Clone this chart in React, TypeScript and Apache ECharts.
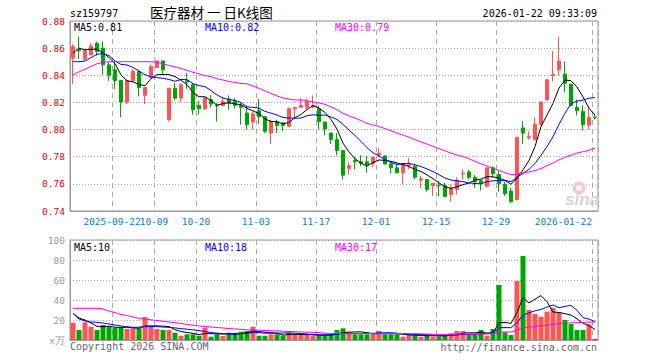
import React, { useEffect, useRef } from 'react';
import * as echarts from 'echarts';

const dates = [
  '2025-09-11','2025-09-12','2025-09-15','2025-09-16','2025-09-17','2025-09-18','2025-09-19','2025-09-22','2025-09-23','2025-09-24',
  '2025-09-25','2025-09-26','2025-09-29','2025-09-30','2025-10-09','2025-10-10','2025-10-13','2025-10-14','2025-10-15','2025-10-16',
  '2025-10-17','2025-10-20','2025-10-21','2025-10-22','2025-10-23','2025-10-24','2025-10-27','2025-10-28','2025-10-29','2025-10-30',
  '2025-10-31','2025-11-03','2025-11-04','2025-11-05','2025-11-06','2025-11-07','2025-11-10','2025-11-11','2025-11-12','2025-11-13',
  '2025-11-14','2025-11-17','2025-11-18','2025-11-19','2025-11-20','2025-11-21','2025-11-24','2025-11-25','2025-11-26','2025-11-27',
  '2025-11-28','2025-12-01','2025-12-02','2025-12-03','2025-12-04','2025-12-05','2025-12-08','2025-12-09','2025-12-10','2025-12-11',
  '2025-12-12','2025-12-15','2025-12-16','2025-12-17','2025-12-18','2025-12-19','2025-12-22','2025-12-23','2025-12-24','2025-12-25',
  '2025-12-26','2025-12-29','2025-12-30','2025-12-31','2026-01-05','2026-01-06','2026-01-07','2026-01-08','2026-01-09','2026-01-12',
  '2026-01-13','2026-01-14','2026-01-15','2026-01-16','2026-01-19','2026-01-20','2026-01-21','2026-01-22',
];

const tickDates = ['2025-09-22','2025-10-09','2025-10-20','2025-11-03','2025-11-17','2025-12-01','2025-12-15','2025-12-29','2026-01-22'];
const tickLabels = ['2025-09-22','10-09','10-20','11-03','11-17','12-01','12-15','12-29','2026-01-22'];

const openP = [
  0.8526,0.8590,0.8520,0.8550,0.8636,0.8600,0.8477,0.8440,0.8362,0.8203,
  0.8360,0.8428,0.8252,0.8384,0.8457,0.8506,0.8073,0.8305,0.8232,0.8360,
  0.8330,0.8178,0.8154,0.8220,0.8180,0.8178,0.8225,0.8208,0.8178,0.8122,
  0.8056,0.8139,0.8095,0.7975,0.8056,0.8050,0.8024,0.8154,0.8164,0.8164,
  0.8166,0.8154,0.8056,0.7975,0.7926,0.7845,0.7713,0.7772,0.7762,0.7762,
  0.7747,0.7811,0.7806,0.7747,0.7718,0.7681,0.7735,0.7730,0.7628,0.7632,
  0.7586,0.7590,0.7586,0.7522,0.7559,0.7674,0.7688,0.7649,0.7625,0.7583,
  0.7718,0.7669,0.7596,0.7547,0.7485,0.8012,0.7940,0.7926,0.8036,0.8220,
  0.8398,0.8440,0.8408,0.8335,0.8164,0.8134,0.8031,0.8092,
];
const closeP = [
  0.8611,0.8580,0.8580,0.8616,0.8575,0.8477,0.8400,0.8360,0.8203,0.8362,
  0.8428,0.8310,0.8310,0.8465,0.8506,0.8440,0.8305,0.8232,0.8330,0.8350,
  0.8146,0.8154,0.8232,0.8188,0.8175,0.8208,0.8193,0.8178,0.8164,0.8036,
  0.8115,0.8095,0.7987,0.8060,0.8031,0.8031,0.8154,0.8164,0.8178,0.8208,
  0.8178,0.8060,0.8004,0.7926,0.7845,0.7664,0.7735,0.7762,0.7752,0.7742,
  0.7796,0.7826,0.7747,0.7718,0.7681,0.7742,0.7745,0.7649,0.7637,0.7559,
  0.7605,0.7586,0.7507,0.7571,0.7625,0.7679,0.7649,0.7615,0.7605,0.7718,
  0.7674,0.7600,0.7527,0.7468,0.7943,0.7975,0.7948,0.8041,0.8203,0.8367,
  0.8406,0.8506,0.8342,0.8178,0.8139,0.8036,0.8090,0.8088,
];
const lowP = [
  0.8335,0.8520,0.8510,0.8546,0.8545,0.8403,0.8359,0.8300,0.8090,0.8188,
  0.8355,0.8244,0.8188,0.8379,0.8455,0.8403,0.8060,0.8220,0.8205,0.8300,
  0.8110,0.8110,0.8146,0.8164,0.8060,0.8170,0.8146,0.8154,0.8036,0.8000,
  0.8000,0.8041,0.7975,0.7894,0.7975,0.7987,0.8024,0.8085,0.8164,0.8146,
  0.8154,0.8000,0.7958,0.7894,0.7810,0.7632,0.7669,0.7706,0.7730,0.7681,
  0.7723,0.7794,0.7742,0.7676,0.7681,0.7600,0.7706,0.7632,0.7566,0.7542,
  0.7512,0.7508,0.7500,0.7468,0.7522,0.7632,0.7632,0.7571,0.7551,0.7571,
  0.7645,0.7542,0.7510,0.7461,0.7478,0.7894,0.7926,0.7919,0.8031,0.8212,
  0.8354,0.8400,0.8276,0.8171,0.8105,0.7994,0.8000,0.8073,
];
const highP = [
  0.8629,0.8685,0.8594,0.8636,0.8648,0.8648,0.8500,0.8500,0.8362,0.8365,
  0.8447,0.8440,0.8310,0.8477,0.8506,0.8506,0.8305,0.8342,0.8340,0.8416,
  0.8340,0.8210,0.8237,0.8252,0.8195,0.8240,0.8252,0.8232,0.8195,0.8178,
  0.8130,0.8225,0.8095,0.8073,0.8073,0.8056,0.8164,0.8164,0.8232,0.8227,
  0.8252,0.8178,0.8056,0.7975,0.7975,0.7845,0.7762,0.7799,0.7811,0.7804,
  0.7799,0.7865,0.7810,0.7762,0.7742,0.7752,0.7791,0.7742,0.7659,0.7632,
  0.7605,0.7622,0.7610,0.7595,0.7649,0.7706,0.7706,0.7664,0.7632,0.7718,
  0.7730,0.7693,0.7615,0.7571,0.7943,0.8061,0.7987,0.8090,0.8203,0.8367,
  0.8580,0.8685,0.8501,0.8335,0.8220,0.8178,0.8171,0.8110,
];
// volume in 万
const volume = [
  17.3,10,17.7,13.3,10,15,13.3,12.3,12.3,11,
  11.7,11.7,23,13.3,11,10,10,7.3,4.3,5.7,
  5.7,4.3,12.3,3.3,5.7,4,7.3,7.3,8.3,9,
  13.3,4.3,4.3,5.7,5.7,4.3,7.7,5,5,5,
  4.3,5,5,5,10,11.7,7.7,5.7,5.7,5.7,
  5.7,9,5.7,5.7,5.7,3.3,5,5,3.3,5,
  3.3,3.3,5.7,6.7,9,9,5.7,5.7,10,4.3,
  11,55,7.7,5,59,84,30,26,23.3,28.3,
  32.3,27.7,20,16,10,10,15.7,1,
];

// moving-average values for the first days (history before the window)
const priceMa5Head = [0.8563, 0.860, 0.8587, 0.8592];
const priceMa10Head = [0.850, 0.850, 0.8505, 0.853, 0.8555, 0.856, 0.8545, 0.8506, 0.848];
const priceMa30Head = [
  0.8403,0.8425,0.8445,0.8465,0.8485,0.8495,0.850,0.850,0.850,0.850,
  0.850,0.850,0.850,0.850,0.8495,0.8485,0.8472,0.8462,0.845,0.8437,
  0.8422,0.841,0.8398,0.839,0.8375,0.8365,0.8355,0.8347,0.834,
];
const volMa5Head = [26.7, 22, 20, 17];
const volMa10Head = [26.7, 21, 19, 18, 17.7, 17, 16, 15, 14];
const volMa30Head = [
  31.7,31.7,31.7,31.7,31.7,31,29,27.5,25.5,24.5,
  23,21.7,21,20.2,19.5,18.7,18,17.3,16.6,15.6,
  14.8,14,13.5,13,12.5,12,11.5,11,10.7,
];

const headerTexts = ['sz159797', '医疗器材 一 日K线图', '2026-01-22 09:33:09'];
const priceLegend = ['MA5:0.81', 'MA10:0.82', 'MA30:0.79'];
const volLegend = ['MA5:10', 'MA10:18', 'MA30:17'];
const footerTexts = ['Copyright 2026 SINA.COM', 'http://finance.sina.com.cn'];

const UP = '#ff5454';
const DOWN = '#00a600';
const MA_COLORS = ['#000000', '#0000ff', '#ff00ff'];
const MONO = '"DejaVu Sans Mono", monospace';

function movingAvg(values: number[], n: number, head: number[]) {
  return values.map((_, i) => {
    if (i < n - 1) return head[i];
    let s = 0;
    for (let k = i - n + 1; k <= i; k++) s += values[k];
    return +(s / n).toFixed(4);
  });
}

export default function App() {
  const ref = useRef<HTMLDivElement>(null);
  useEffect(() => {
    const chart = echarts.init(ref.current!, null, { renderer: 'svg' });
    const tickSet = new Set(tickDates.map((d) => dates.indexOf(d)));
    const isTick = (idx: number) => tickSet.has(idx);
    const pMa = [
      movingAvg(closeP, 5, priceMa5Head),
      movingAvg(closeP, 10, priceMa10Head),
      movingAvg(closeP, 30, priceMa30Head),
    ];
    const vMa = [
      movingAvg(volume, 5, volMa5Head),
      movingAvg(volume, 10, volMa10Head),
      movingAvg(volume, 30, volMa30Head),
    ];
    const names = ['MA5', 'MA10', 'MA30'];
    const splitX = { show: true, interval: (i: number) => isTick(i), lineStyle: { color: '#a8a8a8', type: [5, 4], width: 1 } };
    const splitY = { show: true, lineStyle: { color: '#a8a8a8', type: [1, 2], width: 1 } };
    const txt = (text: string, x: number, y: number, fill: string, font: string, align = 'left') => ({
      type: 'text', x, y, silent: true,
      style: { text, fill, font, textAlign: align, textVerticalAlign: 'middle' },
    });

    chart.setOption({
      animation: false,
      backgroundColor: '#ffffff',
      grid: [
        { left: 70, top: 21, width: 528, height: 190, show: true, borderColor: '#999', borderWidth: 1, backgroundColor: 'transparent' },
        { left: 70, top: 240, width: 528, height: 100, show: true, borderColor: '#999', borderWidth: 1, backgroundColor: 'transparent' },
      ],
      xAxis: [
        {
          type: 'category', gridIndex: 0, data: dates, boundaryGap: true,
          axisLine: { lineStyle: { color: '#999' } }, axisTick: { show: false },
          axisLabel: { show: false },
          splitLine: splitX,
        },
        {
          type: 'category', gridIndex: 1, data: dates, boundaryGap: true,
          axisLine: { lineStyle: { color: '#999' } }, axisTick: { show: false },
          axisLabel: { show: false }, splitLine: splitX,
        },
      ],
      yAxis: [
        {
          type: 'value', gridIndex: 0, min: 0.74, max: 0.88, interval: 0.02,
          axisLine: { show: true, lineStyle: { color: '#999' } }, axisTick: { show: false },
          axisLabel: { color: '#e60000', fontFamily: MONO, fontSize: 9.5, margin: 5, formatter: (v: number) => v.toFixed(2) },
          splitLine: splitY,
        },
        {
          type: 'value', gridIndex: 1, min: 0, max: 100, interval: 20,
          axisLine: { show: true, lineStyle: { color: '#999' } }, axisTick: { show: false },
          axisLabel: { color: '#999', fontFamily: MONO, fontSize: 9.5, margin: 5, formatter: (v: number) => (v === 0 ? 'x万' : String(v)) },
          splitLine: splitY,
        },
      ],
      series: [
        {
          type: 'candlestick', xAxisIndex: 0, yAxisIndex: 0, barWidth: 4,
          data: dates.map((_, i) => [openP[i], closeP[i], lowP[i], highP[i]]),
          itemStyle: { color: UP, color0: DOWN, borderColor: UP, borderColor0: DOWN, borderWidth: 1 },
        },
        ...pMa.map((d, k) => ({
          type: 'line', name: names[k], xAxisIndex: 0, yAxisIndex: 0, data: d, symbol: 'none', z: 3,
          lineStyle: { color: MA_COLORS[k], width: 1 },
        })),
        {
          type: 'bar', xAxisIndex: 1, yAxisIndex: 1, barWidth: 5,
          data: volume.map((v, i) => ({ value: v, itemStyle: { color: closeP[i] >= openP[i] ? UP : DOWN } })),
        },
        ...vMa.map((d, k) => ({
          type: 'line', name: 'v' + names[k], xAxisIndex: 1, yAxisIndex: 1, data: d, symbol: 'none', z: 3,
          lineStyle: { color: MA_COLORS[k], width: 1 },
        })),
      ],
    });

    // date labels placed at the day boundaries (where the dashed lines are), through the axis scale
    const bandW = (chart.convertToPixel({ xAxisIndex: 0 }, dates[1]) as number) - (chart.convertToPixel({ xAxisIndex: 0 }, dates[0]) as number);
    const axisY = chart.convertToPixel({ yAxisIndex: 0 }, 0.74) as number;
    const dateLabels = tickDates.map((d, k) => {
      const cx = (chart.convertToPixel({ xAxisIndex: 0 }, d) as number) - bandW / 2;
      const last = k === tickDates.length - 1;
      return txt(tickLabels[k], cx, axisY + 10, '#0a7ad0', `9.5px ${MONO}`, last ? 'right' : 'center');
    });

    chart.setOption({
      graphic: [
        txt(headerTexts[0], 70, 13, '#000', `10px ${MONO}`),
        txt(headerTexts[1], 150, 12, '#000', '13.5px "Noto Sans CJK SC"'),
        txt(headerTexts[2], 597, 13, '#000', `10px ${MONO}`, 'right'),
        txt(priceLegend[0], 74, 27, MA_COLORS[0], `10px ${MONO}`),
        txt(priceLegend[1], 205, 27, MA_COLORS[1], `10px ${MONO}`),
        txt(priceLegend[2], 335, 27, MA_COLORS[2], `10px ${MONO}`),
        txt(volLegend[0], 74, 247, MA_COLORS[0], `10px ${MONO}`),
        txt(volLegend[1], 205, 247, MA_COLORS[1], `10px ${MONO}`),
        txt(volLegend[2], 335, 247, MA_COLORS[2], `10px ${MONO}`),
        txt(footerTexts[0], 70, 346, '#666', `10px ${MONO}`),
        txt(footerTexts[1], 597, 347, '#666', `10px ${MONO}`, 'right'),
        { type: 'ring', shape: { cx: 579, cy: 188, r: 6.5, r0: 3 }, style: { fill: '#f8c8c8' }, silent: true },
        txt('sina', 565, 199, '#d6d6d6', 'italic bold 17px "Liberation Sans"'),
        ...dateLabels,
      ],
    });
    return () => chart.dispose();
  }, []);
  return <div ref={ref} style={{ position: 'fixed', left: 0, top: 0, width: 660, height: 360 }} />;
}
